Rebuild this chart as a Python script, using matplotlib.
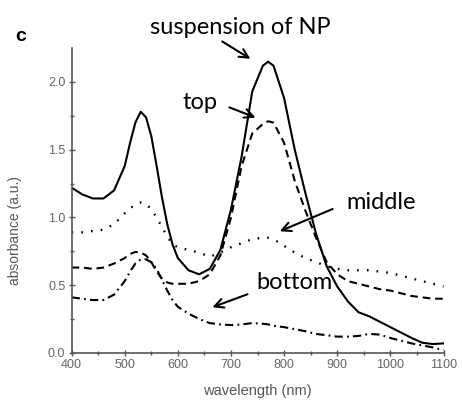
import matplotlib
matplotlib.use("Agg")
import matplotlib.pyplot as plt

# wavelength grid (nm) shared by all four spectra
wavelength = [400, 420, 440, 460, 480, 500, 510, 520, 530, 540, 550, 560, 570, 580, 590,
              600, 620, 640, 660, 680, 700, 720, 740, 760, 770, 780, 800, 820, 840, 860,
              880, 900, 920, 940, 960, 980, 1000, 1020, 1040, 1060, 1080, 1100]

suspension = [1.22, 1.17, 1.14, 1.14, 1.20, 1.38, 1.55, 1.70, 1.78, 1.74, 1.60, 1.38, 1.15, 0.95, 0.80,
              0.70, 0.61, 0.58, 0.62, 0.76, 1.06, 1.45, 1.93, 2.12, 2.15, 2.12, 1.88, 1.50, 1.18, 0.88,
              0.64, 0.49, 0.38, 0.30, 0.27, 0.23, 0.19, 0.15, 0.11, 0.075, 0.065, 0.07]

top = [0.63, 0.63, 0.62, 0.63, 0.66, 0.70, 0.73, 0.745, 0.74, 0.72, 0.67, 0.60, 0.55, 0.52, 0.51,
       0.51, 0.51, 0.53, 0.58, 0.72, 1.00, 1.38, 1.62, 1.69, 1.71, 1.70, 1.55, 1.27, 1.05, 0.85,
       0.67, 0.58, 0.53, 0.51, 0.49, 0.47, 0.46, 0.44, 0.42, 0.41, 0.40, 0.40]

middle = [0.89, 0.89, 0.90, 0.91, 0.95, 1.03, 1.07, 1.09, 1.11, 1.10, 1.06, 1.00, 0.93, 0.86, 0.80,
          0.78, 0.76, 0.74, 0.71, 0.74, 0.78, 0.81, 0.84, 0.85, 0.85, 0.84, 0.79, 0.74, 0.70, 0.67,
          0.64, 0.62, 0.61, 0.61, 0.61, 0.60, 0.59, 0.57, 0.55, 0.53, 0.51, 0.49]

bottom = [0.41, 0.40, 0.39, 0.39, 0.43, 0.53, 0.60, 0.66, 0.69, 0.69, 0.67, 0.62, 0.54, 0.46, 0.39,
          0.34, 0.29, 0.25, 0.22, 0.21, 0.205, 0.21, 0.22, 0.215, 0.21, 0.20, 0.19, 0.175, 0.16, 0.14,
          0.13, 0.12, 0.12, 0.125, 0.14, 0.135, 0.11, 0.09, 0.07, 0.055, 0.04, 0.02]

plt.rcParams['lines.scale_dashes'] = False
plt.rcParams['font.family'] = ['Liberation Sans', 'DejaVu Sans']

fig = plt.figure(figsize=(4.62, 4.01), dpi=100)
ax = fig.add_axes([0.155, 0.12, 0.805, 0.76])

ax.plot(wavelength, suspension, color='black', lw=1.5)
ax.plot(wavelength, top, color='black', lw=1.5, dashes=(5.5, 3.5))
ax.plot(wavelength, middle, color='black', lw=1.7, dashes=(1.2, 5.8))
ax.plot(wavelength, bottom, color='black', lw=1.5, dashes=(6, 3, 1.3, 3))

ax.set_xlim(400, 1100)
ax.set_ylim(0, 2.25)
ax.set_xticks(range(400, 1101, 100))
ax.set_xticks(range(450, 1100, 100), minor=True)
ax.set_yticks([0.0, 0.5, 1.0, 1.5, 2.0])
ax.set_yticks([0.25, 0.75, 1.25, 1.75], minor=True)
ax.set_yticklabels(['0.0', '0.5', '1.0', '1.5', '2.0'])

for side in ['top', 'right']:
    ax.spines[side].set_visible(False)
for side in ['left', 'bottom']:
    ax.spines[side].set_color('#555555')
    ax.spines[side].set_linewidth(1.2)

ax.tick_params(which='major', direction='inout', length=5, width=1, color='#555555',
               labelsize=9, labelcolor='#666666', pad=2)
ax.tick_params(which='minor', direction='inout', length=3, width=1, color='#555555')

ax.set_xlabel('wavelength (nm)', fontsize=10.5, color='#555555', labelpad=9)
ax.set_ylabel('absorbance (a.u.)', fontsize=10, color='#555555')
ax.yaxis.set_label_coords(-0.134, 0.40)

fig.text(0.032, 0.91, 'c', fontsize=14, fontweight='bold', ha='left', va='center')

label_font = dict(fontsize=17, family=['Lato', 'DejaVu Sans'], ha='center', va='center')
arrow = dict(arrowstyle='->', color='black', lw=1.5, mutation_scale=16)

ax.text(717, 2.40, 'suspension of NP', clip_on=False, **label_font)
ax.annotate('', xy=(741, 2.16), xytext=(679, 2.31), arrowprops=arrow, annotation_clip=False)

ax.text(642, 1.85, 'top', **label_font)
ax.annotate('', xy=(751, 1.73), xytext=(692, 1.82), arrowprops=arrow)

ax.text(982, 1.11, 'middle', **label_font)
ax.annotate('', xy=(787, 0.89), xytext=(896, 1.07), arrowprops=arrow)

ax.text(820, 0.52, 'bottom', **label_font)
ax.annotate('', xy=(660, 0.33), xytext=(736, 0.44), arrowprops=arrow)

fig.savefig('out.png', dpi=100)
